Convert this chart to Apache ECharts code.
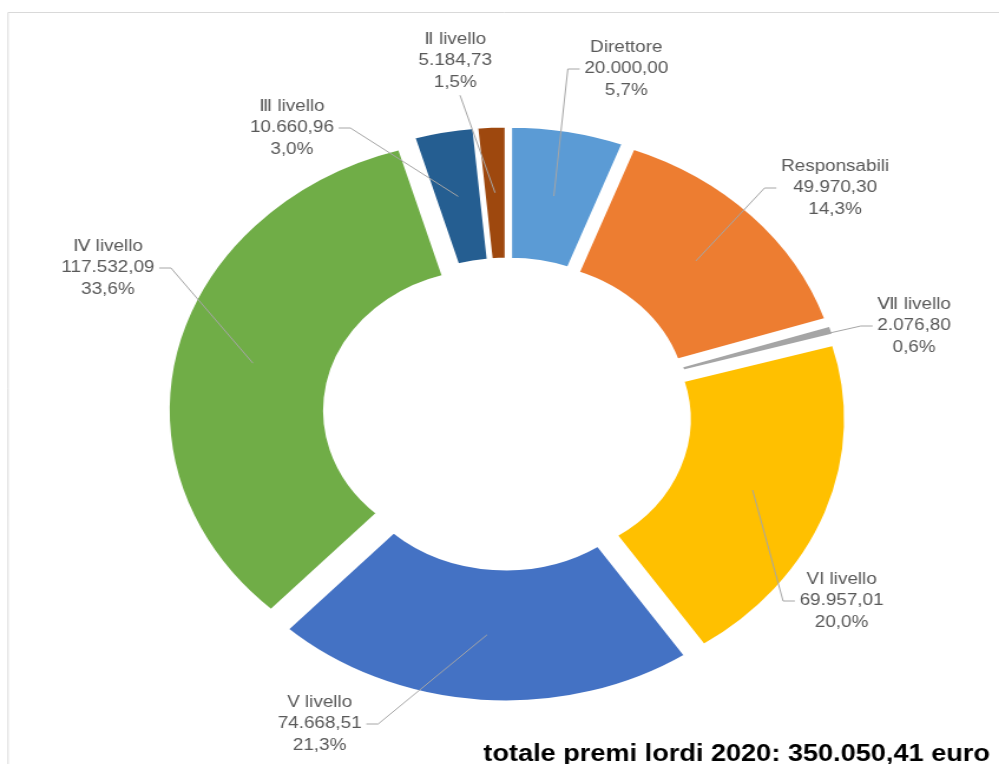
<!DOCTYPE html>
<html>
<head>
<meta charset="utf-8">
<script src="https://cdn.jsdelivr.net/npm/echarts@6/dist/echarts.min.js"></script>
<style>
  html, body { margin: 0; padding: 0; background: #fff; overflow: hidden; }
  #wrap { width: 999px; height: 764px; overflow: hidden; position: relative; }
  /* the doughnut is drawn a little wider than tall */
  #chart { width: 847px; height: 764px; transform: scaleX(1.1795); transform-origin: 0 0; }
</style>
</head>
<body>
<div id="wrap"><div id="chart"></div></div>
<script>
// premi lordi 2020 per livello (euro)
const categories = ['Direttore', 'Responsabili', 'Ⅶ livello', 'VI livello', 'V livello', 'Ⅳ livello', 'Ⅲ livello', 'Ⅱ livello'];
const premi = [20000.00, 49970.30, 2076.80, 69957.01, 74668.51, 117532.09, 10660.96, 5184.73];
const sliceColors = ['#5B9BD5', '#ED7D31', '#A5A5A5', '#FFC000', '#4472C4', '#70AD47', '#255E91', '#9E480E'];
const totalLabel = 'totale premi lordi 2020: 350.050,41 euro';

// where each callout sits: [x, y, side where the leader line attaches]
const labelSpots = [
  [531, 69, 'left'],
  [708, 188, 'left'],
  [775, 326, 'left'],
  [713.5, 601, 'left'],
  [271, 724, 'right'],
  [91.5, 268, 'right'],
  [247.5, 128, 'right'],
  [386, 61, 'bottom']
];

const CENTER = [430, 414];
const RADIUS = [140, 273];
const EXPLODE = 15;
const FONT = "'Liberation Sans', 'DejaVu Sans', sans-serif";

const total = premi.reduce((a, b) => a + b, 0);

function fmtIt(v) {
  const parts = v.toFixed(2).split('.');
  return parts[0].replace(/\B(?=(\d{3})+(?!\d))/g, '.') + ',' + parts[1];
}
function fmtPct(v) {
  return (v / total * 100).toFixed(1).replace('.', ',') + '%';
}

const chart = echarts.init(document.getElementById('chart'), null, { renderer: 'canvas' });

const option = {
  animation: false,
  backgroundColor: '#ffffff',
  title: {
    text: totalLabel,
    right: 7.7,
    bottom: -2,
    padding: 0,
    textStyle: { fontSize: 23, fontWeight: 'bold', fontFamily: FONT, color: '#000000' }
  },
  graphic: [
    {
      type: 'rect',
      silent: true,
      shape: { x: 6.8, y: 12.5, width: 1000, height: 1000 },
      style: { fill: 'none', stroke: '#D9D9D9', lineWidth: 1 }
    }
  ],
  series: [
    {
      // coloured, exploded rings
      type: 'pie',
      z: 2,
      center: CENTER,
      radius: RADIUS,
      startAngle: 90,
      clockwise: true,
      selectedMode: 'multiple',
      selectedOffset: EXPLODE,
      avoidLabelOverlap: false,
      label: { show: false },
      labelLine: { show: false },
      itemStyle: { borderColor: '#ffffff', borderWidth: 3 },
      emphasis: { disabled: true },
      data: categories.map((name, i) => ({
        name: name,
        value: premi[i],
        selected: true,
        itemStyle: { color: sliceColors[i] }
      }))
    },
    {
      // callouts with leader lines, drawn above the rings
      type: 'pie',
      z: 5,
      center: CENTER,
      radius: RADIUS,
      startAngle: 90,
      clockwise: true,
      silent: true,
      selectedMode: false,
      avoidLabelOverlap: false,
      itemStyle: { color: 'rgba(0,0,0,0)', borderWidth: 0 },
      emphasis: { disabled: true },
      label: {
        show: true,
        position: 'outside',
        color: '#595959',
        fontSize: 16,
        lineHeight: 21.5,
        fontFamily: FONT,
        align: 'center',
        formatter: p => p.name + '\n' + fmtIt(p.value) + '\n' + fmtPct(p.value)
      },
      labelLine: {
        show: true,
        length: 10,
        length2: 10,
        lineStyle: { color: '#A6A6A6', width: 1 }
      },
      labelLayout: function (p) {
        const spot = labelSpots[p.dataIndex];
        const lay = chart.getModel().getSeriesByIndex(1).getData().getItemLayout(p.dataIndex);
        const mid = (lay.startAngle + lay.endAngle) / 2;
        const rr = (lay.r0 + lay.r) / 2 + EXPLODE;
        const start = [lay.cx + Math.cos(mid) * rr, lay.cy + Math.sin(mid) * rr];
        const w = p.labelRect.width;
        const h = p.labelRect.height;
        let anchor, elbow;
        if (spot[2] === 'left') {
          anchor = [spot[0] - w / 2 - 4, spot[1]];
          elbow = [anchor[0] - 10, spot[1]];
        } else if (spot[2] === 'right') {
          anchor = [spot[0] + w / 2 + 4, spot[1]];
          elbow = [anchor[0] + 10, spot[1]];
        } else {
          anchor = [spot[0] + 4, spot[1] + h / 2 + 2];
          elbow = anchor;
        }
        return {
          x: spot[0],
          y: spot[1],
          align: 'center',
          verticalAlign: 'middle',
          labelLinePoints: [start, elbow, anchor]
        };
      },
      data: categories.map((name, i) => ({ name: name, value: premi[i] }))
    }
  ]
};

chart.setOption(option);
</script>
</body>
</html>
